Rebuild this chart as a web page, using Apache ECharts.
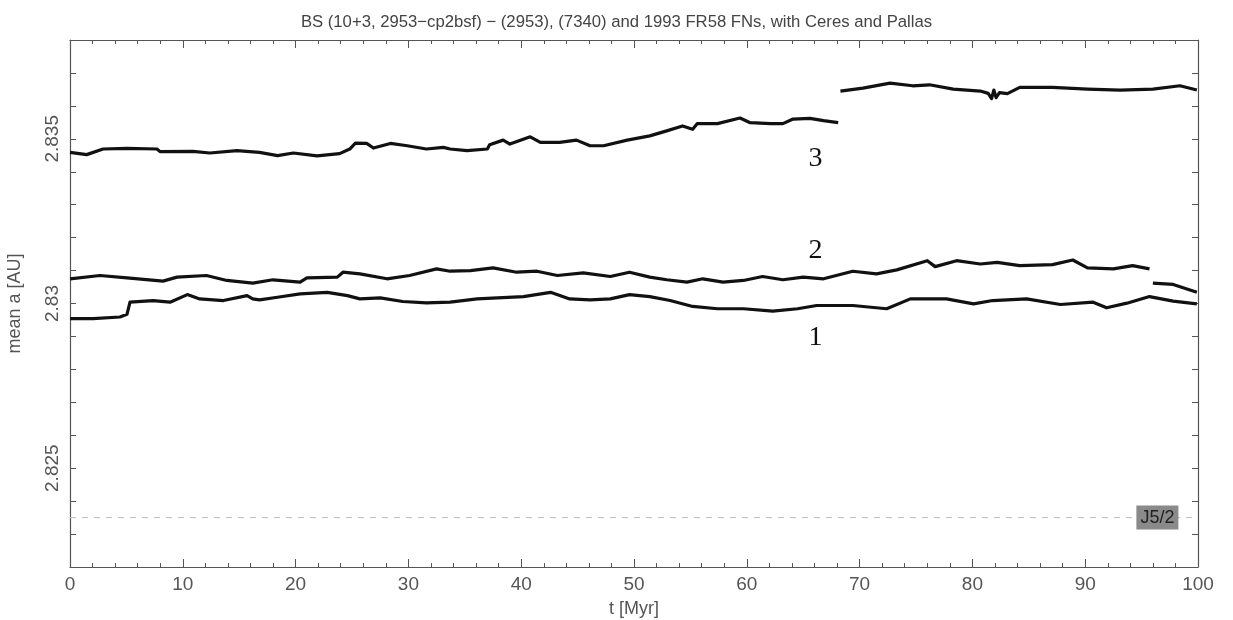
<!DOCTYPE html>
<html>
<head>
<meta charset="utf-8">
<script src="https://cdn.jsdelivr.net/npm/echarts@6/dist/echarts.min.js"></script>
<style>html,body{margin:0;padding:0;background:#fff}#c{width:1233px;height:620px}</style>
</head>
<body>
<div id="c"></div>
<script>
// Series 1 (lowest curve)
const s1T = [0,2.04,4.43,5.05,5.32,7.36,8.87,10.4,11.5,13.6,15.7,16.2,16.8,18.4,20.4,22.8,24.6,25.7,27.5,29.5,31.6,33.7,36.1,37.9,40.2,42.6,44.3,46.1,47.9,49.6,51.4,53.2,55.2,57.4,59.7,62.3,64.5,66.2,69.4,72.4,74.5,77.7,80.1,81.8,84.8,87.8,90.7,91.9,93.7,95.7,97.8,99.9];
const s1A = [2.82954,2.82954,2.82959,2.82967,2.83004,2.83009,2.83004,2.83027,2.83014,2.83009,2.83024,2.83014,2.83011,2.83019,2.83029,2.83034,2.83024,2.83014,2.83017,2.83006,2.83002,2.83004,2.83014,2.83017,2.83021,2.83034,2.83014,2.83011,2.83014,2.83027,2.83021,2.83009,2.82991,2.82984,2.82984,2.82977,2.82984,2.82994,2.82994,2.82984,2.83014,2.83014,2.82999,2.83009,2.83014,2.82997,2.83004,2.82987,2.83001,2.83021,2.83007,2.82999];
// Series 2 (middle curve), null = gap
const s2T = [0,2.66,5.05,8.24,9.49,12.1,13.9,16.2,18.0,20.4,21.0,23.7,24.2,25.7,28.1,30.1,32.5,33.7,35.5,37.5,39.6,41.4,43.2,45.5,47.9,49.6,51.4,52.9,54.7,56.1,57.9,59.7,61.4,63.2,65.0,66.8,69.4,71.5,73.3,76.0,76.7,78.6,80.7,82.2,84.2,87.1,88.9,90.2,92.5,94.2,95.7,95.85,96.0,97.8,99.9];
const s2A = [2.83075,2.83085,2.83078,2.83068,2.83080,2.83085,2.83070,2.83062,2.83072,2.83065,2.83078,2.83080,2.83095,2.83090,2.83075,2.83085,2.83105,2.83098,2.83100,2.83108,2.83095,2.83098,2.83085,2.83093,2.83082,2.83095,2.83080,2.83072,2.83065,2.83075,2.83065,2.83070,2.83082,2.83072,2.83080,2.83075,2.83098,2.83090,2.83102,2.83130,2.83112,2.83130,2.83120,2.83125,2.83115,2.83118,2.83132,2.83108,2.83105,2.83115,2.83105,null,2.83062,2.83058,2.83034];
// Series 3 (top curve), null = gap
const s3T = [0,1.48,2.93,5.05,7.71,7.98,10.9,12.4,14.8,16.8,18.4,19.8,21.9,23.9,24.8,25.3,26.3,26.9,28.4,29.9,31.6,33.1,33.7,35.2,37.0,37.2,38.4,39.0,40.8,41.7,43.4,44.9,46.1,47.3,49.4,51.4,52.9,54.3,55.2,55.6,57.4,59.4,60.3,62.1,63.2,64.1,65.6,66.8,68.1,68.2,68.3,70.3,72.7,74.7,76.2,78.3,80.7,81.4,81.7,81.9,82.1,82.4,83.1,84.2,87.1,90.2,93.1,96.0,98.4,99.9];
const s3A = [2.83459,2.83452,2.83469,2.83471,2.83469,2.83461,2.83462,2.83457,2.83464,2.83459,2.83449,2.83457,2.83448,2.83455,2.83469,2.83487,2.83486,2.83472,2.83486,2.83479,2.83469,2.83474,2.83469,2.83464,2.83469,2.83482,2.83496,2.83484,2.83506,2.83489,2.83489,2.83496,2.83479,2.83479,2.83496,2.83509,2.83524,2.83539,2.83529,2.83546,2.83546,2.83563,2.83549,2.83546,2.83546,2.83560,2.83562,2.83555,2.83549,null,2.83645,2.83654,2.83669,2.83661,2.83664,2.83651,2.83645,2.83638,2.83622,2.83648,2.83625,2.83640,2.83637,2.83656,2.83656,2.83651,2.83648,2.83651,2.83661,2.83648];
// Curve labels: [text, t, a]
const curveLabels = [['3',66.1,2.83441],['2',66.1,2.83161],['1',66.1,2.82897]];
// Resonance J5/2: dashed line extent and label
const resonanceT = [0, 100];
const resonanceA = [2.8235, 2.8235];
const resonanceLabel = ['J5/2', 96.4, 2.8235];

const pairs = (T, A) => T.map((t, i) => [t, A[i] == null ? '-' : A[i]]);

const axisCol = '#555';
const txtCol = '#555';
const fontFam = '"Liberation Sans", "DejaVu Sans", sans-serif';
const chart = echarts.init(document.getElementById('c'), null, {renderer: 'canvas'});

const lineSeries = (T, A, extra) => Object.assign({
  type: 'line', data: pairs(T, A), showSymbol: false, symbol: 'none',
  connectNulls: false, animation: false, xAxisIndex: 0, yAxisIndex: 0,
  lineStyle: {color: '#111', width: 3.2, join: 'round'}, z: 3
}, extra || {});

const tickAxisX = (pos, showLabels) => ({
  type: 'value', min: 0, max: 100, interval: 10, position: pos, gridIndex: 0,
  axisLine: {show: true, onZero: false, lineStyle: {color: axisCol, width: 1.2}},
  axisTick: {show: true, inside: true, length: 8, lineStyle: {color: axisCol}},
  minorTick: {show: true, splitNumber: 5, length: 4, lineStyle: {color: axisCol}},
  axisLabel: {show: showLabels, fontSize: 19, color: txtCol, margin: 8, fontFamily: fontFam},
  splitLine: {show: false}
});
const tickAxisY = (pos, showLabels) => ({
  type: 'value', min: 2.822, max: 2.838, interval: 0.001, position: pos, gridIndex: 0,
  axisLine: {show: true, onZero: false, lineStyle: {color: axisCol, width: 1.2}},
  axisTick: {show: true, inside: true, length: 6, lineStyle: {color: axisCol}},
  axisLabel: {
    show: showLabels, rotate: 90, fontSize: 19, color: txtCol, margin: 8, fontFamily: fontFam,
    formatter: v => {
      const k = Math.round(v * 1000);
      return (k % 5 === 0) ? String(+(k / 1000).toFixed(3)) : '';
    }
  },
  splitLine: {show: false}
});

const xb = tickAxisX('bottom', true);
Object.assign(xb, {name: 't [Myr]', nameLocation: 'middle', nameGap: 33,
  nameTextStyle: {fontSize: 18, color: txtCol, fontFamily: fontFam}});
const yl = tickAxisY('left', true);
Object.assign(yl, {name: 'mean a [AU]', nameLocation: 'middle', nameGap: 46, nameRotate: 90,
  nameTextStyle: {fontSize: 18, color: txtCol, fontFamily: fontFam}});

chart.setOption({
  animation: false,
  backgroundColor: '#fff',
  title: {
    text: 'BS (10+3, 2953\u2212cp2bsf) \u2212 (2953), (7340) and 1993 FR58 FNs, with Ceres and Pallas',
    left: 'center', top: 9,
    textStyle: {fontSize: 16.7, fontWeight: 'normal', color: '#444', fontFamily: fontFam}
  },
  grid: {left: 70, right: 35, top: 40, bottom: 53, containLabel: false, outerBoundsMode: 'none'},
  xAxis: [xb, tickAxisX('top', false)],
  yAxis: [yl, tickAxisY('right', false)],
  series: [
    {
      type: 'line', data: pairs(resonanceT, resonanceA), showSymbol: false, symbol: 'none',
      animation: false, silent: true, z: 1,
      lineStyle: {type: [6, 6], color: '#bbb', width: 1}
    },
    lineSeries(s1T, s1A),
    lineSeries(s2T, s2A),
    lineSeries(s3T, s3A, {
      markPoint: {
        silent: true, animation: false,
        data: curveLabels.map(c => ({
          coord: [c[1], c[2]], symbol: 'circle', symbolSize: 0,
          label: {show: true, position: 'inside', formatter: c[0],
            fontFamily: '"Liberation Serif", "DejaVu Serif", serif',
            fontSize: 28, color: '#111'}
        })).concat([{
          coord: [resonanceLabel[1], resonanceLabel[2]], symbol: 'circle', symbolSize: 0,
          label: {show: true, position: 'inside', formatter: resonanceLabel[0],
            fontFamily: fontFam, fontSize: 18, color: '#222',
            backgroundColor: '#8a8a8a', padding: [4, 4, 2, 4]}
        }])
      }
    })
  ]
});
</script>
</body>
</html>
